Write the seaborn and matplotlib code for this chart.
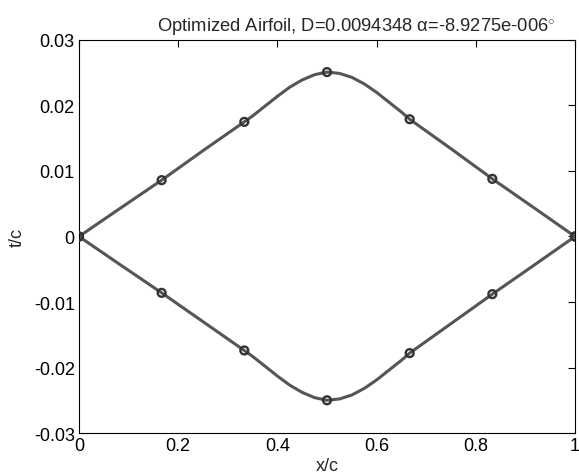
import numpy as np
import pandas as pd
import matplotlib
matplotlib.use("Agg")
import matplotlib.pyplot as plt
import seaborn as sns

# control points (markers)
x_ctrl = [0.0, 1/6, 1/3, 0.5, 2/3, 5/6, 1.0]
t_ctrl_upper = [0.0, 0.0086, 0.0175, 0.0251, 0.0179, 0.0088, 0.0]
t_ctrl_lower = [0.0, -0.0086, -0.0174, -0.0250, -0.0178, -0.0088, 0.0]

# surface samples
x_surf = [0.0, 0.083, 1/6, 0.25, 1/3, 0.35, 0.375, 0.40, 0.425, 0.45, 0.475, 0.5,
          0.525, 0.55, 0.575, 0.60, 0.625, 0.65, 2/3, 0.75, 5/6, 0.917, 1.0]
t_surf_upper = [0.0, 0.0043, 0.0086, 0.0131, 0.0175, 0.0184, 0.0199, 0.0214, 0.0228, 0.0239, 0.0247, 0.0251,
                0.0249, 0.0243, 0.0233, 0.0220, 0.0205, 0.0190, 0.0179, 0.0134, 0.0088, 0.0044, 0.0]
t_surf_lower = [0.0, -0.0043, -0.0086, -0.0130, -0.0174, -0.0183, -0.0198, -0.0213, -0.0227, -0.0238, -0.0246, -0.0250,
                -0.0248, -0.0242, -0.0232, -0.0219, -0.0204, -0.0189, -0.0178, -0.0133, -0.0088, -0.0044, 0.0]

xticks = [0, 0.2, 0.4, 0.6, 0.8, 1]
yticks = [-0.03, -0.02, -0.01, 0, 0.01, 0.02, 0.03]
ytick_labels = ["-0.03", "-0.02", "-0.01", "0", "0.01", "0.02", "0.03"]

sns.set_style("white")
plt.rcParams['font.family'] = ['Liberation Sans', 'DejaVu Sans']
plt.rcParams['mathtext.fontset'] = 'custom'
plt.rcParams['mathtext.rm'] = 'Liberation Sans'
plt.rcParams['mathtext.it'] = 'Liberation Sans:italic'

surf = pd.concat([
    pd.DataFrame({"x": x_surf, "t": t_surf_upper, "side": "upper"}),
    pd.DataFrame({"x": x_surf, "t": t_surf_lower, "side": "lower"}),
])
ctrl = pd.concat([
    pd.DataFrame({"x": x_ctrl, "t": t_ctrl_upper}),
    pd.DataFrame({"x": x_ctrl, "t": t_ctrl_lower}),
])

fig = plt.figure(figsize=(5.79, 4.77), dpi=100)
ax = fig.add_axes([0.1364, 0.0901, 0.8567, 0.824])

line_col = "#555555"
sns.lineplot(data=surf, x="x", y="t", units="side", estimator=None, sort=False,
             color=line_col, linewidth=2.2, ax=ax)
sns.scatterplot(data=ctrl, x="x", y="t", marker="o", s=32, facecolor="none",
                edgecolor="#333333", linewidth=1.7, ax=ax, zorder=3)

ax.set_xlim(0, 1)
ax.set_ylim(-0.03, 0.03)
ax.set_xticks(xticks)
ax.set_xticklabels([f"{v:g}" for v in xticks])
ax.set_yticks(yticks)
ax.set_yticklabels(ytick_labels)
ax.tick_params(direction="in", length=5, width=0.8, top=True, right=True,
               labelsize=13, colors="black", pad=3)
for sp in ax.spines.values():
    sp.set_color("black")
    sp.set_linewidth(0.8)

ax.set_xlabel("x/c", fontsize=13, labelpad=2)
ax.set_ylabel("t/c", fontsize=13, labelpad=6)
ax.set_title(r"Optimized Airfoil, D=0.0094348 α=-8.9275e-006$^{\circ}$",
             fontsize=13.2, x=0.56, pad=7)

fig.savefig("out.png", dpi=100)
